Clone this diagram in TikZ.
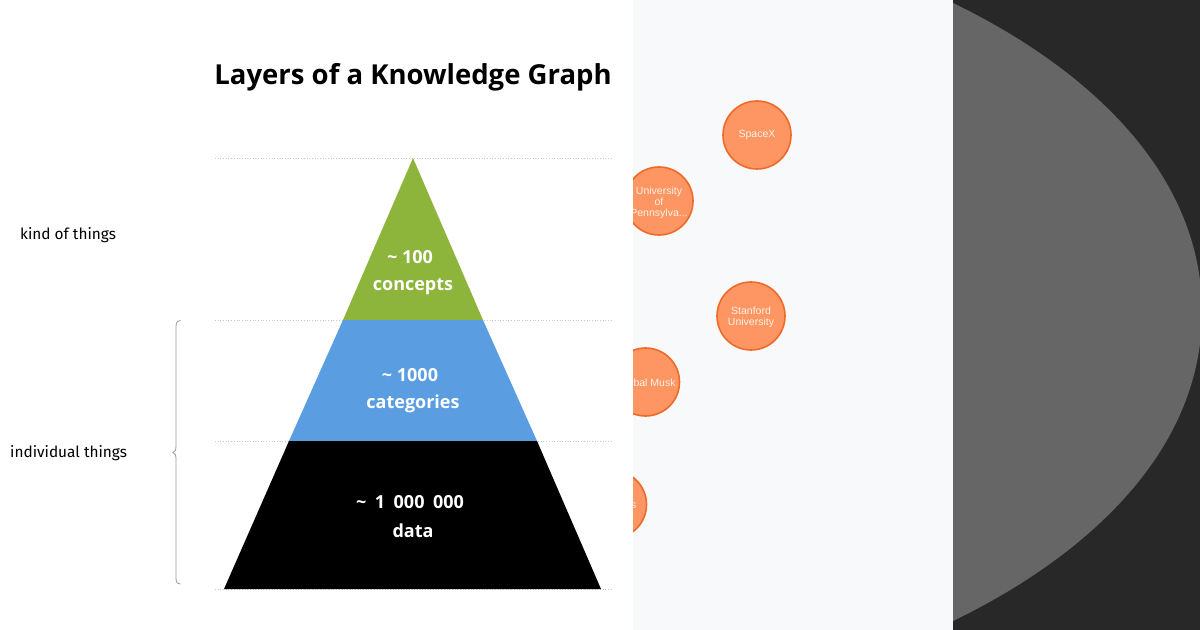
\documentclass[tikz,border=0pt]{standalone}
\usepackage{fontspec}
\setmainfont{Open Sans}
\newfontfamily\labelfont{Fira Sans}
\newfontfamily\circfont{Liberation Sans}
\definecolor{panel}{HTML}{F8F9FB}
\definecolor{darkbg}{HTML}{282828}
\definecolor{disc}{HTML}{666666}
\definecolor{pgreen}{HTML}{8DB43B}
\definecolor{pblue}{HTML}{5B9DE1}
\definecolor{orfill}{HTML}{FD9662}
\definecolor{ordraw}{HTML}{EE6A28}
\definecolor{guidecol}{HTML}{C8C8C8}
\definecolor{circtext}{HTML}{FFF1E8}
\tikzset{
  guide/.style={draw=guidecol, dotted, line width=0.7bp},
  titletext/.style={font=\fontsize{27.5bp}{32bp}\selectfont\bfseries, anchor=base, inner sep=0},
  plabel/.style={font=\fontsize{18bp}{21bp}\selectfont\bfseries, text=white, anchor=base, inner sep=0},
  sidelabel/.style={font=\labelfont\fontsize{15.4bp}{18bp}\selectfont, anchor=base west, inner sep=0},
  entity/.style={circle, fill=orfill, draw=ordraw, line width=1.6bp, minimum size=68bp, inner sep=0},
  enttext/.style={font=\circfont\fontsize{10.5bp}{11bp}\selectfont, text=circtext, align=center, inner sep=0},
  bracecol/.style={draw=gray!80, line width=0.8bp}
}
\begin{document}
\begin{tikzpicture}[x=1bp,y=-1bp]
\fill[white] (0,0) rectangle (1200,630);
\useasboundingbox (0,0) rectangle (1200,630);
% right panels
\fill[panel] (633,0) rectangle (953,630);
\fill[darkbg] (953,0) rectangle (1200,630);
\begin{scope}
  \clip (953,0) rectangle (1200,630);
  \fill[disc] (940,0) -- (953,3) .. controls (1075,62) and (1202,165) .. (1202,312)
     .. controls (1202,459) and (1075,562) .. (953,621) -- (940,630) -- cycle;
\end{scope}
% graph nodes in the light panel
\begin{scope}
  \clip (633,0) rectangle (953,630);
  \node[entity] (spacex) at (757,135) {};
  \node[enttext] (spacext) at (spacex.center) {SpaceX};
  \node[entity] (upenn) at (659,201) {};
  \node[enttext] (upennt) at (659,203) {University\\of\\Pennsylva...};
  \node[entity] (stanford) at (751,316) {};
  \node[enttext] (stanfordt) at (751,317.5) {Stanford\\University};
  \node[entity] (kimbal) at (645.5,382) {};
  \node[enttext] (kimbalt) at (645.5,383) {Kimbal Musk};
  \node[entity] (lowent) at (612.5,504.5) {};
  \node[enttext, anchor=west] (lowentt) at (631,506) {s};
\end{scope}
% guide lines
\coordinate (g1l) at (215,158); \coordinate (g1r) at (612,158);
\coordinate (g2l) at (215,320); \coordinate (g2r) at (612,320);
\coordinate (g3l) at (215,441); \coordinate (g3r) at (612,441);
\coordinate (g4l) at (215,589); \coordinate (g4r) at (612,589);
\draw[guide] (g1l) -- (g1r);
\draw[guide] (g2l) -- (g2r);
\draw[guide] (g3l) -- (g3r);
\draw[guide] (g4l) -- (g4r);
% pyramid
\fill[pgreen] (413,158) -- (483,320) -- (343,320) -- cycle;
\fill[pblue] (343,320) -- (483,320) -- (537,441) -- (289,441) -- cycle;
\fill[black] (289,441) -- (537,441) -- (601,589) -- (224,589) -- cycle;
% title
\node[titletext] (title) at (413,85) {Layers of a Knowledge Graph};
% pyramid labels
\node[plabel] (l1a) at (410,264) {\char"007E\ 100};
\node[plabel] (l1b) at (413,291) {concepts};
\node[plabel] (l2a) at (410,381.5) {\char"007E\ 1000};
\node[plabel] (l2b) at (413,408.5) {categories};
\node[plabel] (l3a) at (410,508.5) {\char"007E\hspace{8.5bp}1\hspace{8.5bp}000\hspace{8.5bp}000};
\node[plabel] (l3b) at (413,537.5) {data};
% side labels
\node[sidelabel] (kind) at (20,240) {kind of things};
\node[sidelabel] (indiv) at (10,457) {individual things};
% brace
\draw[bracecol] (180.5,320.5) .. controls (177,321) and (176,323) .. (176,327)
  -- (176,446) .. controls (176,450) and (175,452) .. (173,452.5)
  .. controls (175,453) and (176,455) .. (176,459)
  -- (176,578) .. controls (176,582) and (177,583.5) .. (180.5,584);
\end{tikzpicture}
\end{document}
